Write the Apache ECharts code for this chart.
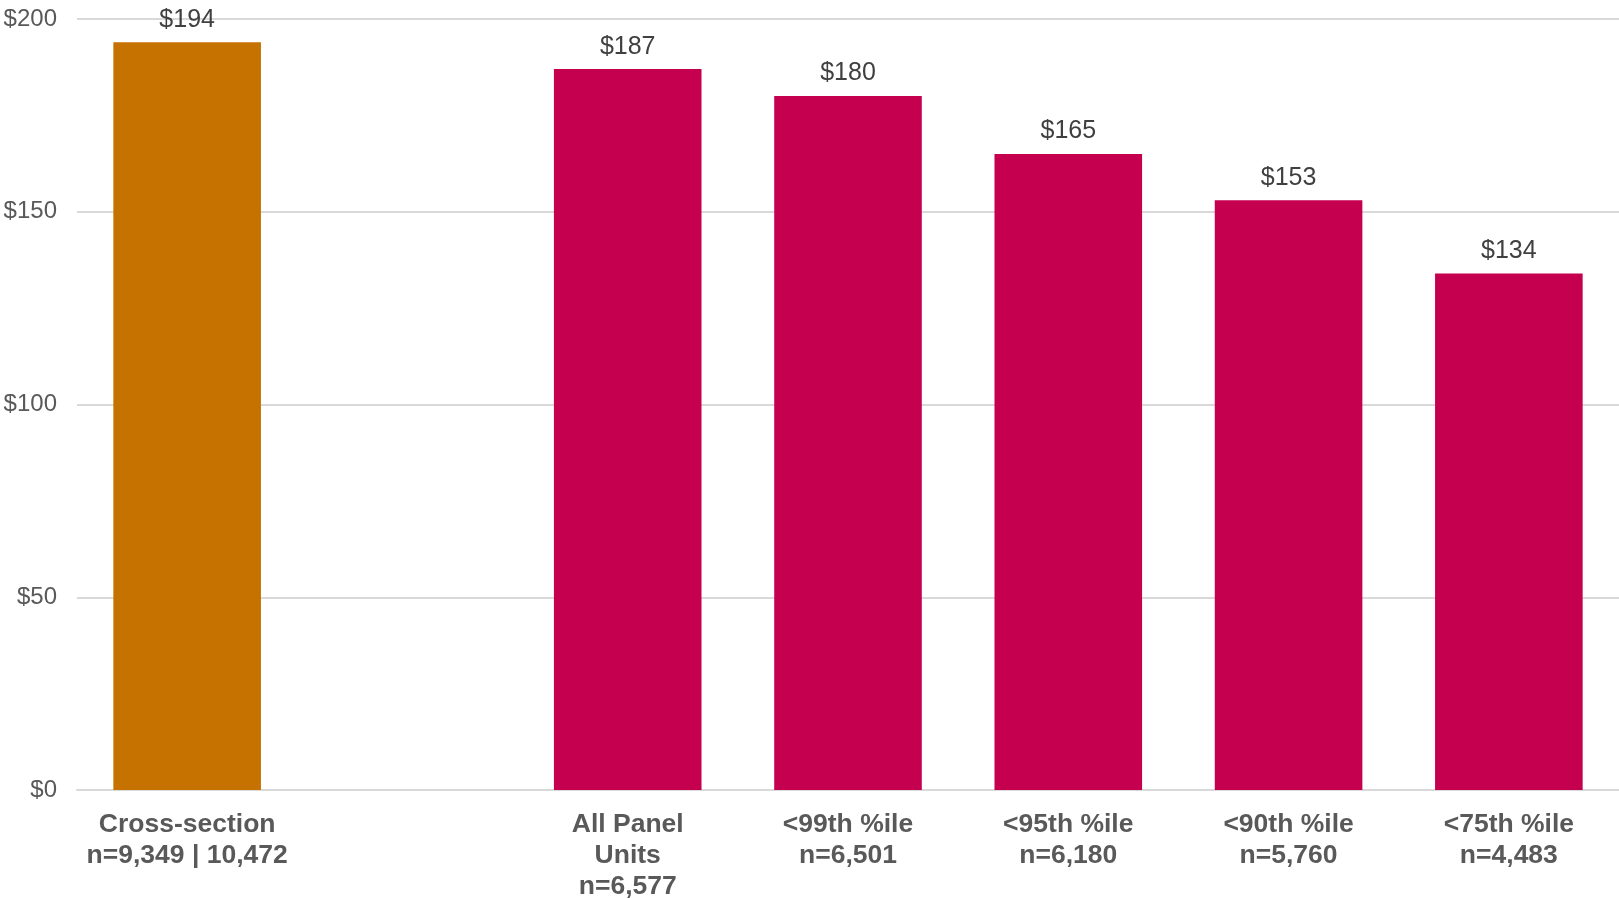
<!DOCTYPE html>
<html>
<head>
<meta charset="utf-8">
<title>Panel units chart</title>
<script src="https://cdn.jsdelivr.net/npm/echarts@6/dist/echarts.min.js"></script>
<style>
  html, body { margin: 0; padding: 0; background: #fff; }
  #chart { width: 1619px; height: 898px; }
</style>
</head>
<body>
<div id="chart"></div>
<script>
// categories (empty one is the gap after cross-section)
var categories = [
  'Cross-section\nn=9,349 | 10,472',
  '',
  'All Panel\nUnits\nn=6,577',
  '<99th %ile\nn=6,501',
  '<95th %ile\nn=6,180',
  '<90th %ile\nn=5,760',
  '<75th %ile\nn=4,483'
];
var values = [194, null, 187, 180, 165, 153, 134];
var barColors = ['#C57200', null, '#C5004F', '#C5004F', '#C5004F', '#C5004F', '#C5004F'];
var yTicks = { min: 0, max: 200, step: 50 };

var font = 'Liberation Sans, Arial, sans-serif';

var chart = echarts.init(document.getElementById('chart'));

var barData = values.map(function (v, i) {
  if (v == null) return '-';
  return { value: v, itemStyle: { color: barColors[i] } };
});

chart.setOption({
  animation: false,
  // outerBoundsMode none: keep the plot where it is, v6 shrinks it otherwise
  grid: { left: 77, right: 0, top: 19, bottom: 108, containLabel: false, outerBoundsMode: 'none' },
  xAxis: {
    type: 'category',
    data: categories,
    axisLine: { show: true, lineStyle: { color: '#d9d9d9', width: 2 } },
    axisTick: { show: false },
    axisLabel: {
      interval: 0,
      margin: 19,
      color: '#595959',
      fontFamily: font,
      fontWeight: 'bold',
      fontSize: 26.5,
      lineHeight: 31
    }
  },
  yAxis: {
    type: 'value',
    min: yTicks.min,
    max: yTicks.max,
    interval: yTicks.step,
    axisLine: { show: false },
    axisTick: { show: false },
    splitLine: { lineStyle: { color: '#d9d9d9', width: 2 } },
    axisLabel: {
      margin: 20,
      color: '#595959',
      fontFamily: font,
      fontSize: 24,
      formatter: function (v) { return '$' + v; }
    }
  },
  series: [{
    type: 'bar',
    data: barData,
    barWidth: '67%',
    label: {
      show: true,
      position: 'top',
      distance: 10,
      color: '#404040',
      fontFamily: font,
      fontSize: 25,
      formatter: function (p) { return '$' + p.value; }
    }
  }]
});
</script>
</body>
</html>
